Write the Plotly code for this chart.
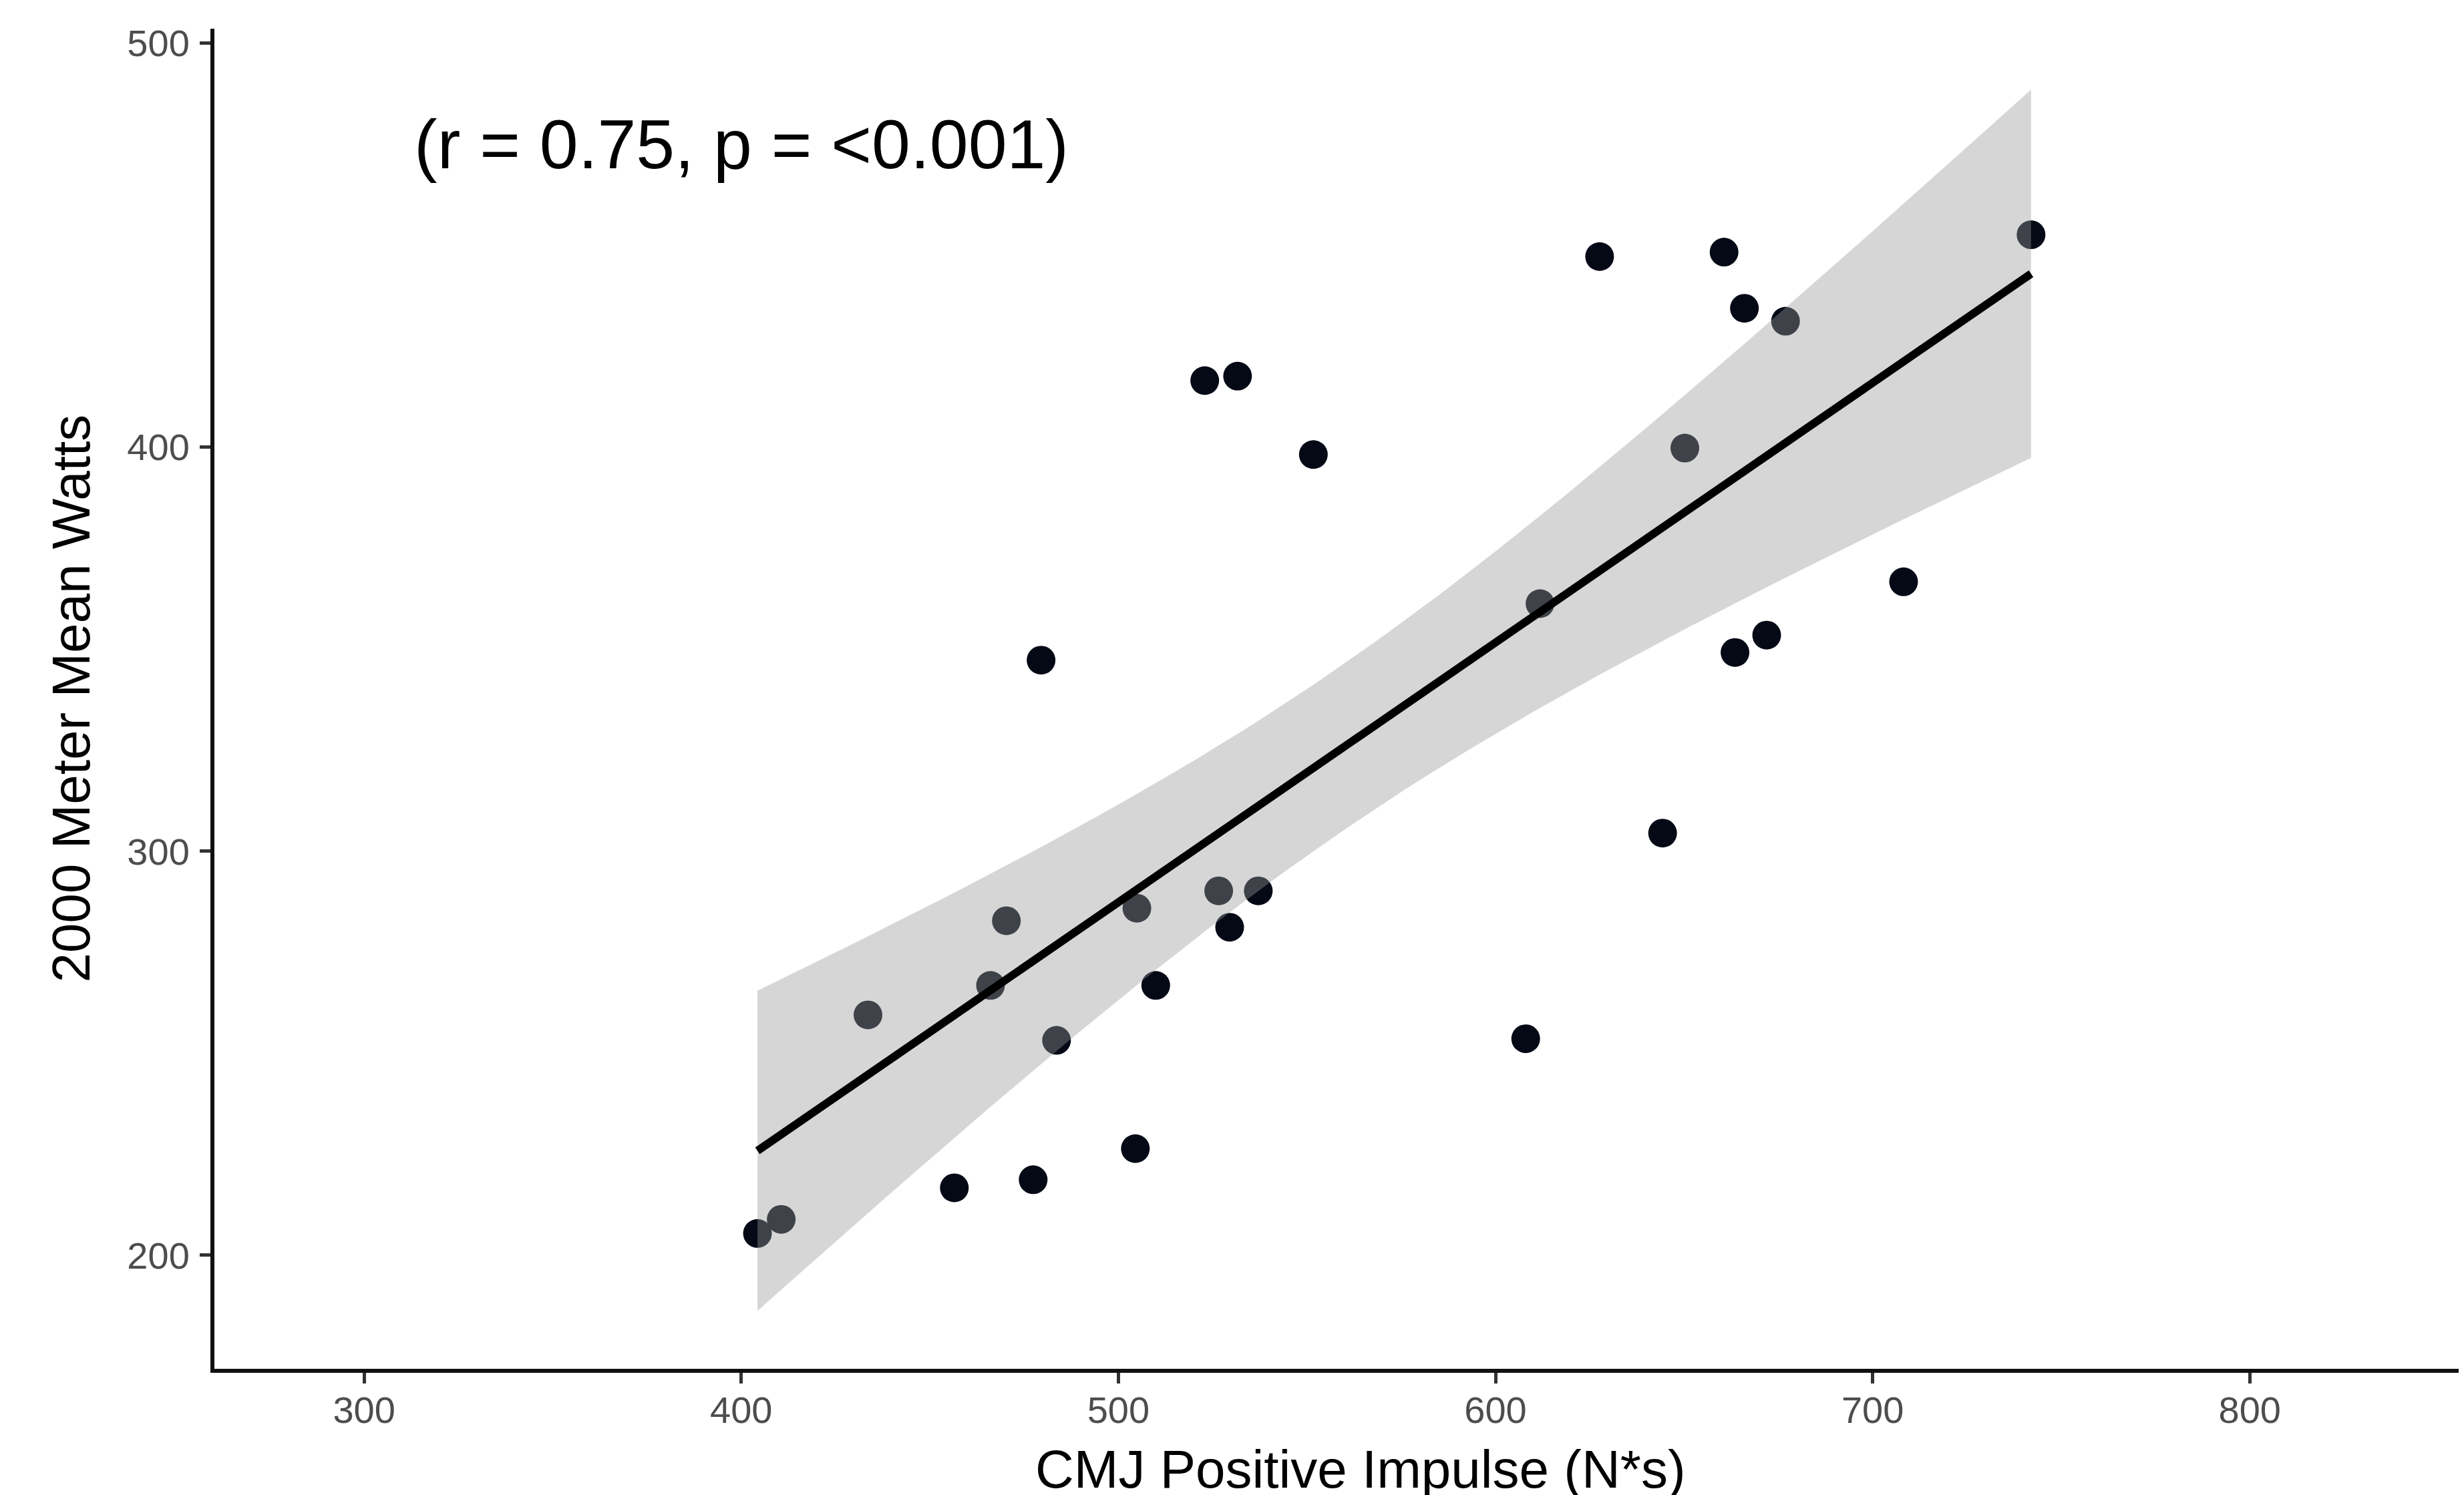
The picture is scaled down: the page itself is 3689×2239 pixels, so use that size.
import numpy as np
import plotly.graph_objects as go

# Data
impulse = [404.3, 410.6, 433.6, 456.5, 466.1, 470.3, 477.4, 479.5, 483.6, 504.5,
           504.9, 509.9, 522.9, 526.6, 529.5, 531.6, 537.1, 551.7, 608.0, 611.8,
           627.6, 644.3, 650.2, 660.6, 663.5, 666.0, 671.9, 676.9, 708.2, 742.0]
watts = [205.4, 208.9, 259.5, 216.7, 266.8, 282.8, 218.7, 347.3, 253.2, 226.4,
         285.9, 266.8, 416.5, 290.2, 281.2, 417.6, 290.2, 398.2, 253.6, 361.3,
         447.2, 304.5, 399.8, 448.3, 349.2, 434.4, 353.5, 431.2, 366.7, 452.6]
x_ticks = [300, 400, 500, 600, 700, 800]
y_ticks = [200, 300, 400, 500]
stat_label = "(r = 0.75, p = <0.001)"

# Linear fit with 95% confidence band (like geom_smooth(method="lm"))
x = np.array(impulse)
y = np.array(watts)
n = len(x)
b1, b0 = np.polyfit(x, y, 1)
resid = y - (b0 + b1 * x)
s = np.sqrt(np.sum(resid ** 2) / (n - 2))
t_crit = 2.0484  # t(0.975, df=28)
xs = np.linspace(x.min(), x.max(), 80)
fit = b0 + b1 * xs
se = s * np.sqrt(1.0 / n + (xs - x.mean()) ** 2 / np.sum((x - x.mean()) ** 2))
lo = fit - t_crit * se
hi = fit + t_crit * se

fig = go.Figure()
fig.add_trace(go.Scatter(x=impulse, y=watts, mode="markers",
                         marker=dict(size=43, color="#040915", line=dict(width=0)),
                         showlegend=False, cliponaxis=False))
fig.add_trace(go.Scatter(x=np.concatenate([xs, xs[::-1]]),
                         y=np.concatenate([hi, lo[::-1]]),
                         fill="toself", fillcolor="rgba(153,153,153,0.4)",
                         line=dict(width=0), mode="lines", showlegend=False,
                         hoverinfo="skip"))
fig.add_trace(go.Scatter(x=xs, y=fit, mode="lines",
                         line=dict(color="black", width=12), showlegend=False))

W, H = 3689, 2239
# page body has an 8px margin, so the figure is offset by 8px right/down
L, R, T, B = 313, 8, 35, 197
PW = W - L - R
PH = H - T - B
fig.update_layout(
    width=W, height=H,
    margin=dict(l=L, r=R, t=T, b=B),
    paper_bgcolor="white", plot_bgcolor="white",
    font=dict(family="Liberation Sans, Arial, sans-serif", color="black"),
    xaxis=dict(range=[260.3, 856.8], tickvals=x_ticks, showgrid=False, zeroline=False,
               showline=True, linecolor="#111111", linewidth=6,
               ticks="outside", ticklen=16, tickwidth=5, tickcolor="#333333",
               tickfont=dict(size=56, color="#4d4d4d"), ticklabelstandoff=-8),
    yaxis=dict(range=[171.9, 503.6], tickvals=y_ticks, showgrid=False, zeroline=False,
               showline=True, linecolor="#111111", linewidth=6,
               ticks="outside", ticklen=16, tickwidth=5, tickcolor="#333333",
               tickfont=dict(size=56, color="#4d4d4d"), ticklabelstandoff=4),
    annotations=[
        dict(x=400, y=475, xref="x", yref="y", text=stat_label, showarrow=False,
             font=dict(size=104, color="black"), xanchor="center", yanchor="middle"),
        dict(x=(2037 - 321) / PW, y=(2050 - 2200) / PH,
             xref="paper", yref="paper", text="CMJ Positive Impulse (N*s)",
             showarrow=False, font=dict(size=80, color="black"),
             xanchor="center", yanchor="middle"),
        dict(x=(106 - 321) / PW, y=0.5, xref="paper", yref="paper",
             text="2000 Meter Mean Watts", textangle=-90, showarrow=False,
             font=dict(size=80, color="black"), xanchor="center", yanchor="middle"),
    ],
)

fig.write_html("out.html")
